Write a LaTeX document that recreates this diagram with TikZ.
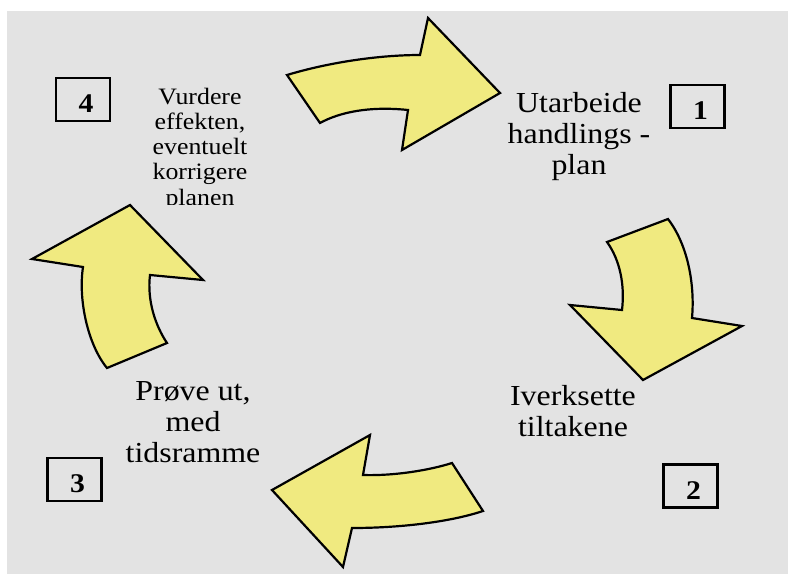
\documentclass[tikz,border=0pt]{standalone}
\usepackage{fontspec}
\setmainfont{Liberation Serif}[FakeStretch=1.1]
\usepackage{tikz}

\definecolor{arrowyellow}{RGB}{240,234,128}
\definecolor{paper}{RGB}{227,227,227}

\begin{document}
\begin{tikzpicture}[x=1pt, y=-1pt,
        bigarrow/.style={fill=arrowyellow, draw=black, line width=2.2pt, line join=miter},
        numbox/.style={rectangle, draw=black, line width=2.2pt, minimum width=54pt, minimum height=43pt, font=\fontsize{27}{27}\selectfont\bfseries, text height=26pt, text depth=0pt},
        steptext/.style={align=center, inner sep=0pt, font=\fontsize{29}{31}\selectfont},
        notetext/.style={align=center, inner sep=0pt, font=\fontsize{23.5}{25.3}\selectfont}
    ]
        \useasboundingbox (0,0) rectangle (788,574);
        \fill[white] (0,0) rectangle (788,574);
        \fill[paper] (7,11) rectangle (788,574);

        % the four curved arrows of the cycle
        \draw[bigarrow] (287,75) .. controls (330,62) and (380,55) .. (420,55) -- (428,18) -- (500,93) -- (402,150) -- (408,110)
            .. controls (370,106) and (340,112) .. (320,123) -- cycle;
        \draw[bigarrow] (607,242) -- (668,219) .. controls (688,245) and (695,285) .. (692,318) -- (742,326) -- (643,380) -- (570,305) -- (622,310)
            .. controls (625,285) and (620,260) .. cycle;
        \draw[bigarrow] (272,490) -- (370,435) -- (363,475) .. controls (395,476) and (430,470) .. (452,463) -- (483,511)
            .. controls (450,522) and (400,528) .. (352,528) -- (343,567) -- cycle;
        \draw[bigarrow] (130,205) -- (203,280) -- (150,275) .. controls (147,300) and (155,325) .. (167,343) -- (107,368)
            .. controls (88,345) and (78,300) .. (83,267) -- (32,259) -- cycle;

        \node[steptext] (plan) at (579,137) {Utarbeide\\handlings -\\plan};
        \node[numbox] (n1) at (697.5,106.5) {\kern6pt 1};

        \node[steptext] (act) at (573,411) {Iverksette\\tiltakene};
        \node[numbox] (n2) at (690.5,486) {\kern6pt 2};

        \node[steptext] (test) at (193,422) {Prøve ut,\\med\\tidsramme};
        \node[numbox] (n3) at (74.5,479.5) {\kern6pt 3};

        \begin{scope}
            \clip (120,60) rectangle (290,204);
            \node[notetext] (eval) at (200,149) {Vurdere\\effekten,\\eventuelt\\korrigere\\planen};
        \end{scope}
        \node[numbox] (n4) at (83,99.5) {\kern6pt 4};
    \end{tikzpicture}
\end{document}
